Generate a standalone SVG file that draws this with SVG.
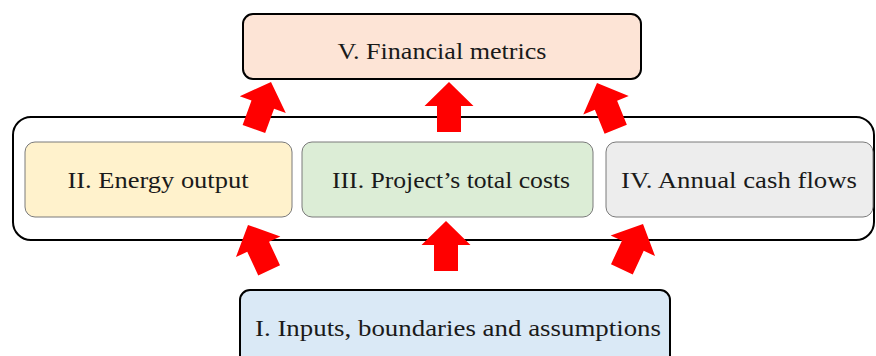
<svg xmlns="http://www.w3.org/2000/svg" width="876" height="356" viewBox="0 0 876 356">
<defs>
<style>
text{font-family:"Liberation Serif","Times New Roman",serif;font-size:24px;fill:#1a1a1a;text-anchor:middle}
.main{stroke:#000;stroke-width:2}
.inner{stroke:#7a7a7a;stroke-width:1}
.arr{fill:#ff0000}
</style>
<path id="arrow" d="M0,0 L24.5,24 L12,24 L12,50 L-12,50 L-12,24 L-24.5,24 Z"/>
</defs>
<rect x="0" y="0" width="876" height="356" fill="#fff"/>
<g id="container">
<rect class="main" x="13" y="117" width="861" height="123" rx="18" fill="none"/>
</g>
<g id="node-V">
<rect class="main" x="243" y="14" width="398" height="65" rx="10" fill="#fde4d6"/>
<text x="442" y="59" textLength="209" lengthAdjust="spacingAndGlyphs">V. Financial metrics</text>
</g>
<g id="node-II">
<rect class="inner" x="25" y="142" width="267" height="75" rx="10" fill="#fff2cc"/>
<text x="158" y="188" textLength="181" lengthAdjust="spacingAndGlyphs">II. Energy output</text>
</g>
<g id="node-III">
<rect class="inner" x="302" y="142" width="291" height="75" rx="10" fill="#dcedd6"/>
<text x="451" y="188" textLength="238" lengthAdjust="spacingAndGlyphs">III. Project’s total costs</text>
</g>
<g id="node-IV">
<rect class="inner" x="606" y="142" width="267" height="75" rx="10" fill="#ededed"/>
<text x="739" y="188" textLength="236" lengthAdjust="spacingAndGlyphs">IV. Annual cash flows</text>
</g>
<g id="node-I">
<rect class="main" x="240" y="290" width="430" height="76" rx="10" fill="#dae9f6"/>
<text x="458" y="336" textLength="406" lengthAdjust="spacingAndGlyphs">I. Inputs, boundaries and assumptions</text>
</g>
<g id="connectors" class="arr">
<use href="#arrow" transform="translate(271,82) rotate(20)"/>
<use href="#arrow" transform="translate(449,82)"/>
<use href="#arrow" transform="translate(597,83) rotate(-22)"/>
<use href="#arrow" transform="translate(248,225) rotate(-25)"/>
<use href="#arrow" transform="translate(446,221)"/>
<use href="#arrow" transform="translate(643,224) rotate(25)"/>
</g>
</svg>
